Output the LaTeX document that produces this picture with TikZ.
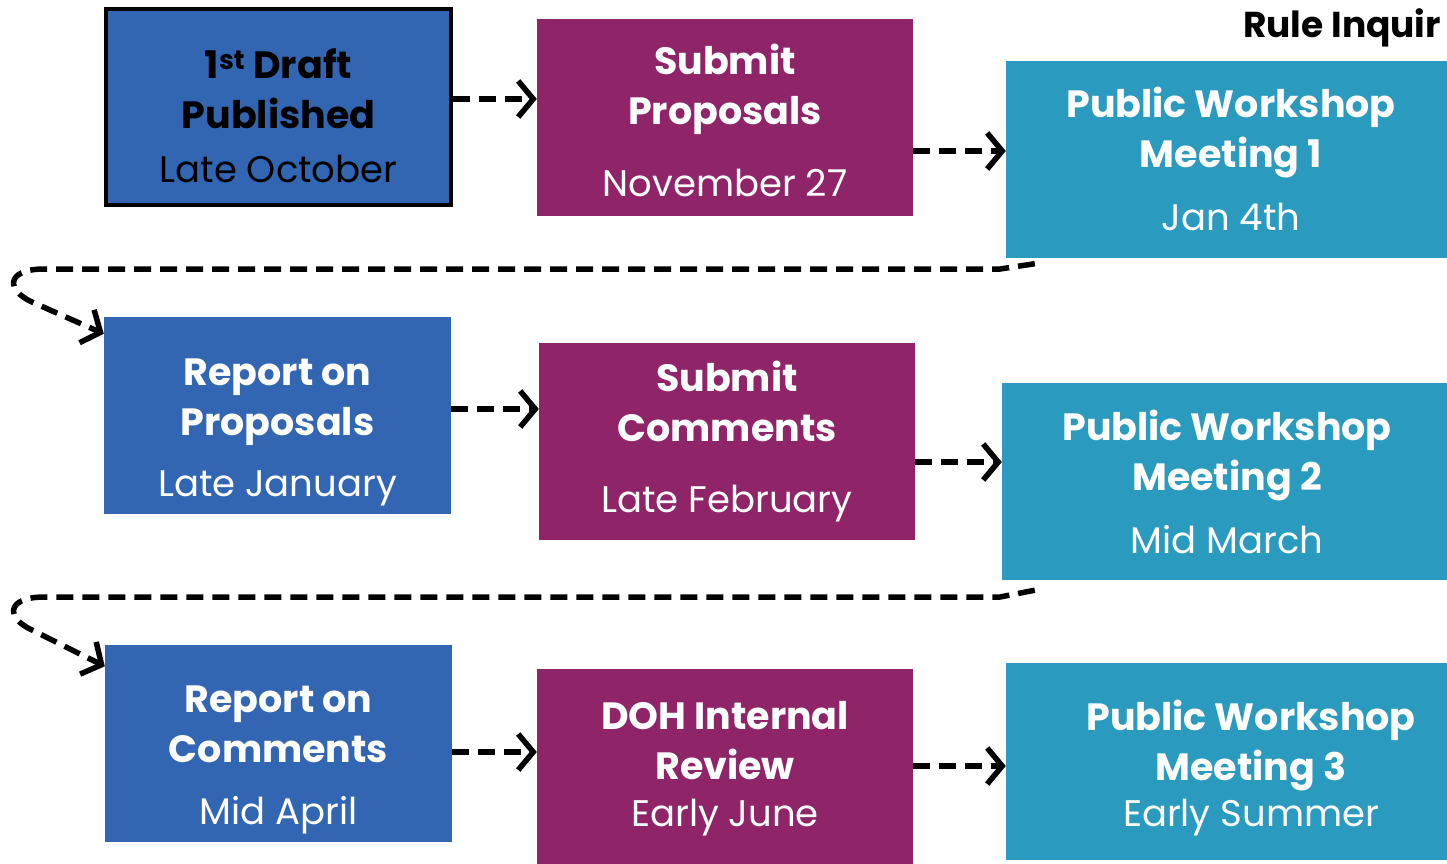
\documentclass[tikz,border=0pt]{standalone}
\usepackage{fontspec}
\setmainfont{Poppins}
\usetikzlibrary{arrows.meta}
\definecolor{blauFosc}{RGB}{50,102,178}
\definecolor{lilaFosc}{RGB}{143,37,104}
\definecolor{turquesa}{RGB}{42,154,190}
\tikzstyle{caixaBase} = [rectangle, align=center, inner sep=0pt, text=white, font=\fontsize{38}{50}\selectfont\bfseries]
\tikzstyle{caixaBlava} = [caixaBase, fill=blauFosc, minimum width=347pt, minimum height=197pt]
\tikzstyle{caixaLila} = [caixaBase, fill=lilaFosc, minimum width=376pt, minimum height=197pt]
\tikzstyle{caixaTurquesa} = [caixaBase, fill=turquesa, minimum width=450pt, minimum height=197pt]
\tikzstyle{caixaInici} = [caixaBlava, draw=black, line width=4pt, text=black, minimum width=345pt, minimum height=196pt]
\tikzstyle{titolRegla} = [font=\fontsize{36}{40}\selectfont\bfseries, anchor=west, inner sep=0pt]
\tikzstyle{arrow} = [line width=5.5pt, dash pattern=on 17pt off 9pt, -{Straight Barb[length=15pt,width=36pt]}]
\newcommand{\dataFita}{\fontsize{37}{50}\selectfont\mdseries}

\begin{document}
\begin{tikzpicture}[x=1pt, y=-1pt]

	\useasboundingbox (0,0) rectangle (1447,863);
	\clip (0,0) rectangle (1447,863);

	% Definicio de nodes
	\node (pas1) [caixaInici] at (278.5,107) {\rule{0pt}{48pt}1\textsuperscript{st} Draft\\Published\\[4pt]\dataFita Late October};
	\node (pas2) [caixaLila] at (725,117.5) {\rule{0pt}{36pt}Submit\\Proposals\\[22pt]\dataFita November 27};
	\node (pas3) [caixaTurquesa] at (1231,159) {Public Workshop\\Meeting 1\\[13pt]\dataFita Jan 4th};

	\node (pas4) [caixaBlava] at (277.5,415.5) {\rule{0pt}{60pt}Report on\\Proposals\\[11pt]\dataFita Late January};
	\node (pas5) [caixaLila] at (727,441.5) {Submit\\Comments\\[21pt]\dataFita Late February};
	\node (pas6) [caixaTurquesa] at (1227,481.5) {Public Workshop\\Meeting 2\\[13pt]\dataFita Mid March};

	\node (pas7) [caixaBlava] at (278.5,743) {\rule{0pt}{60pt}Report on\\Comments\\[12pt]\dataFita Mid April};
	\node (pas8) [caixaLila] at (725,767) {\rule{0pt}{32pt}DOH Internal\\Review\\[-3pt]\dataFita Early June};
	\node (pas9) [caixaTurquesa, minimum width=490pt] at (1251,761) {\rule{0pt}{44pt}Public Workshop\\Meeting 3\\[-4pt]\dataFita Early Summer};

	\node (regla) [titolRegla] at (1243,28) {Rule Inquir};

	% punts de retorn entre files
	\coordinate (retorn1a) at (1000,269);
	\coordinate (retorn1b) at (42,269);
	\coordinate (retorn1c) at (32,302);
	\coordinate (retorn2a) at (1000,597);
	\coordinate (retorn2b) at (42,597);
	\coordinate (retorn2c) at (32,630);

	% Fletxes entre els nodes
	\draw [arrow] ([yshift=8pt]pas1.east) -- ([yshift=8pt]pas1.east -| pas2.west);
	\draw [arrow] ([yshift=-33.5pt]pas2.east) -- ([yshift=-33.5pt]pas2.east -| pas3.west);
	\draw [arrow] ([yshift=6.5pt]pas4.east) -- ([yshift=6.5pt]pas4.east -| pas5.west);
	\draw [arrow] ([yshift=-20.5pt]pas5.east) -- ([yshift=-20.5pt]pas5.east -| pas6.west);
	\draw [arrow] ([yshift=-9pt]pas7.east) -- ([yshift=-9pt]pas7.east -| pas8.west);
	\draw [arrow] ([yshift=1pt]pas8.east) -- ([yshift=1pt]pas8.east -| pas9.west);

	\draw [arrow] ([xshift=29pt,yshift=-6pt]pas3.south west) -- (retorn1a) -- (retorn1b) .. controls (6,270) and (6,290) .. (retorn1c) -- ([yshift=-17pt]pas4.north west);
	\draw [arrow] ([xshift=33pt,yshift=-10pt]pas6.south west) -- (retorn2a) -- (retorn2b) .. controls (6,598) and (6,618) .. (retorn2c) -- ([yshift=-22pt]pas7.north west);

\end{tikzpicture}
\end{document}
